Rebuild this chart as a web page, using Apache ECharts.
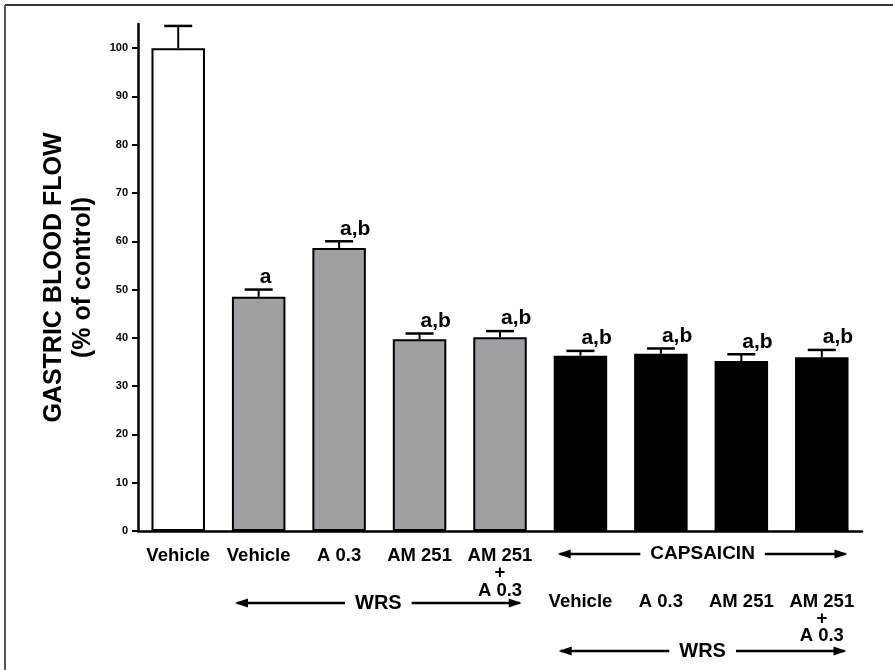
<!DOCTYPE html>
<html>
<head>
<meta charset="utf-8">
<script src="https://cdn.jsdelivr.net/npm/echarts@6/dist/echarts.min.js"></script>
<style>
html,body{margin:0;padding:0;background:#fff;}
#chart{width:893px;height:670px;}
</style>
</head>
<body>
<div id="chart"></div>
<script>
// ---- data ----
const labelsRow1 = ['Vehicle', 'Vehicle', 'A 0.3', 'AM 251', 'AM 251\n+\nA 0.3', '', '', '', ''];
const labelsRow2 = ['', '', '', '', '', 'Vehicle', 'A 0.3', 'AM 251', 'AM 251\n+\nA 0.3'];
const groups = ['control', 'wrs', 'wrs', 'wrs', 'wrs', 'caps', 'caps', 'caps', 'caps'];
const means = [100, 48.5, 58.6, 39.7, 40.1, 36.3, 36.7, 35.2, 36.0];
const errors = [4.6, 1.5, 1.4, 1.2, 1.3, 1.0, 1.1, 1.4, 1.5];
const sigLabels = ['', 'a', 'a,b', 'a,b', 'a,b', 'a,b', 'a,b', 'a,b', 'a,b'];
const yTicks = [0, 10, 20, 30, 40, 50, 60, 70, 80, 90, 100];

const groupColors = { control: '#ffffff', wrs: '#a09fa4', caps: '#000000' };
const FONT = '"Liberation Sans", Arial, Helvetica, sans-serif';

const chart = echarts.init(document.getElementById('chart'), null, { renderer: 'canvas' });

const option = {
  animation: false,
  backgroundColor: '#fff',
  grid: { left: 138, top: 24, width: 724, height: 507, containLabel: false },
  xAxis: [
    {
      type: 'category',
      data: labelsRow1,
      axisLine: { lineStyle: { color: '#000', width: 2.5 } },
      axisTick: { show: false },
      axisLabel: {
        interval: 0, color: '#000', fontFamily: FONT, fontWeight: 'bold',
        fontSize: 18.5, lineHeight: 17.5, margin: 16
      }
    },
    {
      type: 'category',
      data: labelsRow2,
      position: 'bottom',
      offset: 46.7,
      axisLine: { show: false },
      axisTick: { show: false },
      axisLabel: {
        interval: 0, color: '#000', fontFamily: FONT, fontWeight: 'bold',
        fontSize: 18.5, lineHeight: 17, margin: 16
      }
    }
  ],
  yAxis: {
    type: 'value',
    min: 0, max: 105, interval: 10,
    splitLine: { show: false },
    axisLine: { show: true, lineStyle: { color: '#000', width: 2.5 } },
    axisTick: { show: true, length: 6, customValues: yTicks, lineStyle: { color: '#000', width: 2 } },
    axisLabel: {
      customValues: yTicks, color: '#000', fontFamily: FONT, fontWeight: 'bold',
      fontSize: 11, margin: 10,
      formatter: v => (v > 100 ? '' : String(v))
    },
    name: 'GASTRIC BLOOD FLOW\n(% of control)',
    nameLocation: 'middle',
    nameRotate: 90,
    nameGap: 40,
    nameTextStyle: {
      color: '#000', fontFamily: FONT, fontWeight: 'bold', fontSize: 25,
      lineHeight: 29, align: 'center'
    }
  },
  series: [
    {
      type: 'bar',
      data: means,
      barWidth: '66.5%',
      itemStyle: {
        color: p => groupColors[groups[p.dataIndex]],
        borderColor: '#000',
        borderWidth: 2
      },
      z: 2
    },
    {
      type: 'custom',
      data: means.map((m, i) => [i, m, m + errors[i]]),
      z: 3,
      renderItem: function (params, api) {
        const i = api.value(0);
        const base = api.coord([i, api.value(1)]);
        const top = api.coord([i, api.value(2)]);
        const capHalf = 14;
        const children = [
          { type: 'line', shape: { x1: base[0], y1: base[1], x2: top[0], y2: top[1] },
            style: { stroke: '#000', lineWidth: 2 } },
          { type: 'line', shape: { x1: top[0] - capHalf, y1: top[1], x2: top[0] + capHalf, y2: top[1] },
            style: { stroke: '#000', lineWidth: 2.5 } }
        ];
        const lbl = sigLabels[params.dataIndex];
        if (lbl) {
          children.push({
            type: 'text',
            style: {
              text: lbl, x: top[0] + 1, y: top[1] - 2,
              align: 'left', verticalAlign: 'bottom',
              font: 'bold 21px ' + FONT, fill: '#000'
            }
          });
        }
        return { type: 'group', children: children };
      }
    }
  ]
};

chart.setOption(option);

// ---- group annotations (arrows), positioned from the category axis ----
function arrowGroup(x1, x2, y, text, fontSize) {
  const ah = 13, hw = 4.5;
  const mid = (x1 + x2) / 2;
  return [
    { type: 'line', shape: { x1: x1 + 2, y1: y, x2: x2 - 2, y2: y }, style: { stroke: '#000', lineWidth: 2.5 }, z: 10 },
    { type: 'polygon', shape: { points: [[x1, y], [x1 + ah, y - hw], [x1 + ah, y + hw]] }, style: { fill: '#000' }, z: 11 },
    { type: 'polygon', shape: { points: [[x2, y], [x2 - ah, y - hw], [x2 - ah, y + hw]] }, style: { fill: '#000' }, z: 11 },
    { type: 'text', x: mid, y: y, style: {
        text: text, align: 'center', verticalAlign: 'middle',
        font: 'bold ' + fontSize + 'px ' + FONT, fill: '#000',
        backgroundColor: '#fff', padding: [0, 10]
      }, z: 12 }
  ];
}

const c0 = chart.convertToPixel({ xAxisIndex: 0, yAxisIndex: 0 }, [0, 0]);
const c1 = chart.convertToPixel({ xAxisIndex: 0, yAxisIndex: 0 }, [1, 0]);
const band = c1[0] - c0[0];
const half = band * 0.665 / 2;
const cx = i => chart.convertToPixel({ xAxisIndex: 0, yAxisIndex: 0 }, [i, 0])[0];
const axisY = c0[1];

const graphics = [
  { type: 'line', shape: { x1: 5, y1: 5, x2: 893, y2: 5 }, style: { stroke: '#333', lineWidth: 2 } },
  { type: 'line', shape: { x1: 5, y1: 5, x2: 5, y2: 670 }, style: { stroke: '#555', lineWidth: 2 } }
]
  .concat(arrowGroup(cx(1) - half + 3, cx(4) + half - 5, axisY + 72, 'WRS', 20))
  .concat(arrowGroup(cx(5) - half + 4, cx(8) + half - 1, axisY + 23, 'CAPSAICIN', 19))
  .concat(arrowGroup(cx(5) - half + 5, cx(8) + half - 2, axisY + 120, 'WRS', 20));

chart.setOption({ graphic: { elements: graphics } });
</script>
</body>
</html>
